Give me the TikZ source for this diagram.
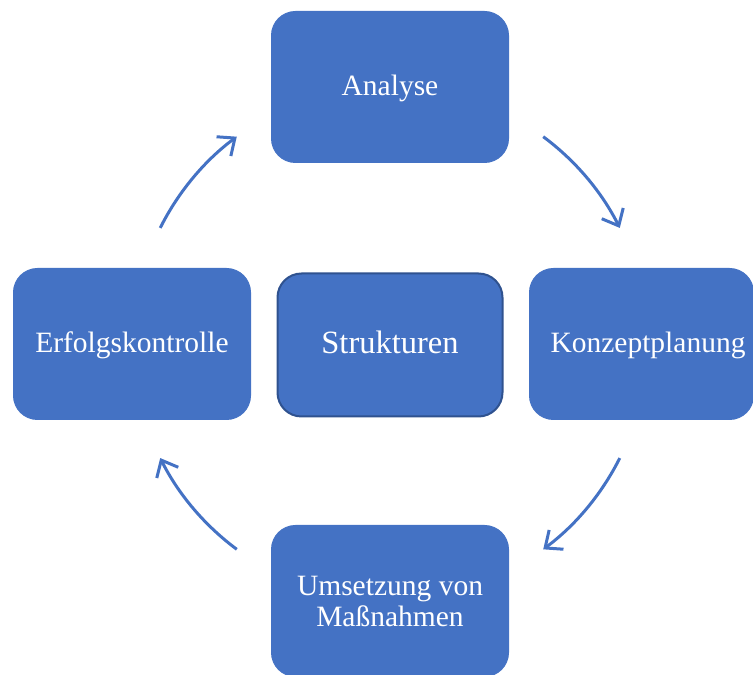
\documentclass[tikz,border=0pt]{standalone}
\usepackage{fontspec}
\setmainfont{Liberation Serif}
\usepackage{tikz}
\usetikzlibrary{arrows.meta,calc}
\definecolor{CycBlue}{HTML}{4472C4}
\definecolor{CycDark}{HTML}{2F528F}

\begin{document}
\begin{tikzpicture}[
  x=1pt,y=1pt,
  phase/.style={draw=CycBlue,fill=CycBlue,rounded corners=24pt,line width=1pt,
    minimum width=237pt,minimum height=151pt,align=center,text=white,
    font=\fontsize{29.5}{31}\selectfont},
  oneline/.style={text height=24pt,text depth=6pt},
  hub/.style={phase,oneline,draw=CycDark,line width=2pt,minimum width=225pt,
    minimum height=143pt,font=\fontsize{32.5}{34}\selectfont},
  cycle/.style={-{Straight Barb[length=14pt,width=24pt,line width=3pt]},
    draw=CycBlue,line width=3pt}
]
\useasboundingbox (0,0) rectangle (753,675);

\node[phase,oneline] (analyse) at (390,588) {Analyse};
\node[phase,oneline,minimum width=224pt] (konzept) at (641.5,331) {\hspace*{13pt}Konzeptplanung};
\node[phase] (umsetzung) at (390,74) {Umsetzung von\\Maßnahmen};
\node[phase,oneline] (erfolg) at (132,331) {Erfolgskontrolle};
\node[hub] (struktur) at (390,330) {Strukturen};

\coordinate (mitte) at (390,332);
\foreach \a/\b in {53.4/26.6, -26.6/-53.4, -126.6/-153.4, 153.4/126.6}
  \draw[cycle] ($(mitte)+(\a:257)$) arc[start angle=\a,end angle=\b,radius=257];

\end{tikzpicture}
\end{document}
